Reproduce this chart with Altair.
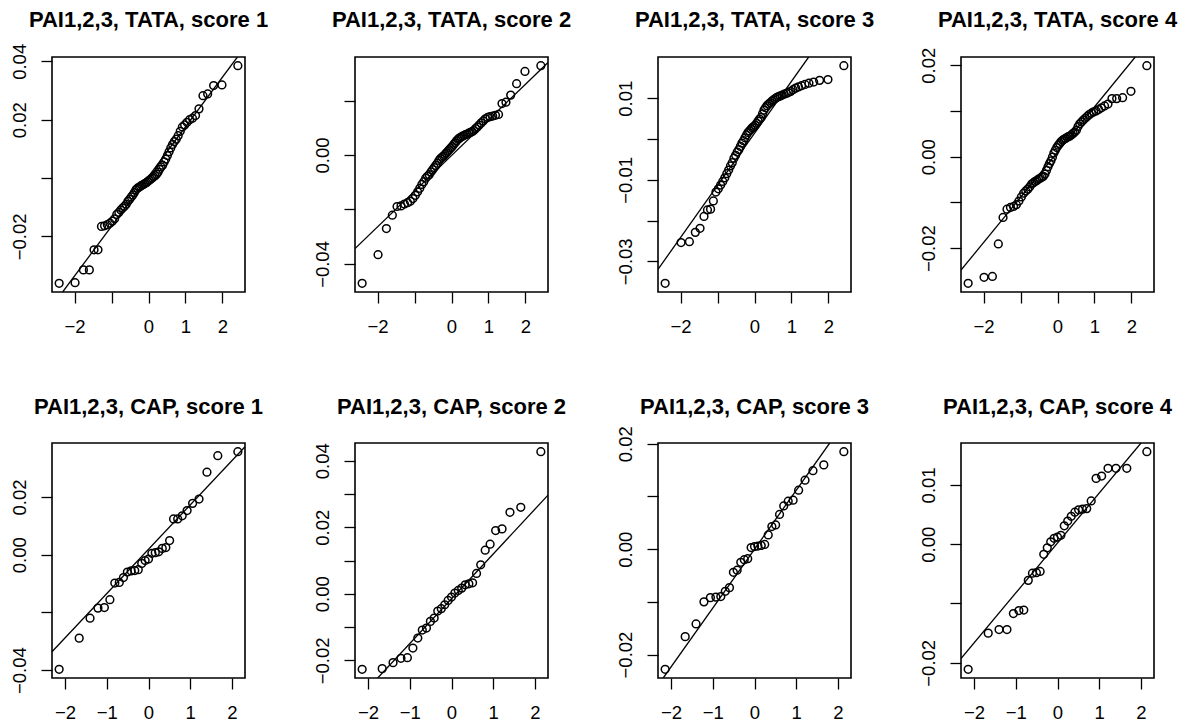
import altair as alt
import pandas as pd
from statistics import NormalDist

# Panel titles, row by row
TITLES = [
    "PAI1,2,3, TATA, score 1", "PAI1,2,3, TATA, score 2",
    "PAI1,2,3, TATA, score 3", "PAI1,2,3, TATA, score 4",
    "PAI1,2,3, CAP, score 1", "PAI1,2,3, CAP, score 2",
    "PAI1,2,3, CAP, score 3", "PAI1,2,3, CAP, score 4",
]

# Sample values (sorted) for each panel
TATA_1 = [-0.0361, -0.0359, -0.0315, -0.0315, -0.0246, -0.0246, -0.0166, -0.0164,
          -0.0160, -0.0155, -0.0148, -0.0140, -0.0125, -0.0118, -0.0110, -0.0103,
          -0.0097, -0.0090, -0.0080, -0.0073, -0.0065, -0.0058, -0.0050, -0.0040,
          -0.0035, -0.0032, -0.0028, -0.0025, -0.0022, -0.0019, -0.0016, -0.0012,
          -0.0008, -0.0004, 0.0000, 0.0004, 0.0008, 0.0013, 0.0020, 0.0030,
          0.0038, 0.0044, 0.0055, 0.0065, 0.0077, 0.0090, 0.0103, 0.0115,
          0.0125, 0.0133, 0.0145, 0.0160, 0.0175, 0.0182, 0.0191, 0.0200,
          0.0205, 0.0214, 0.0237, 0.0282, 0.0288, 0.0317, 0.0319, 0.0385]
TATA_2 = [-0.0471, -0.0366, -0.0270, -0.0221, -0.0189, -0.0187, -0.0180, -0.0175,
          -0.0170, -0.0160, -0.0148, -0.0135, -0.0122, -0.0108, -0.0098, -0.0085,
          -0.0078, -0.0072, -0.0062, -0.0054, -0.0046, -0.0038, -0.0030, -0.0020,
          -0.0013, -0.0008, -0.0004, 0.0002, 0.0008, 0.0014, 0.0020, 0.0026,
          0.0031, 0.0039, 0.0045, 0.0052, 0.0058, 0.0062, 0.0066, 0.0069,
          0.0072, 0.0075, 0.0077, 0.0080, 0.0083, 0.0086, 0.0090, 0.0097,
          0.0103, 0.0110, 0.0118, 0.0125, 0.0133, 0.0138, 0.0141, 0.0143,
          0.0146, 0.0149, 0.0189, 0.0194, 0.0220, 0.0262, 0.0307, 0.0328]
TATA_3 = [-0.0354, -0.0254, -0.0252, -0.0229, -0.0219, -0.0190, -0.0174, -0.0172,
          -0.0152, -0.0130, -0.0122, -0.0113, -0.0104, -0.0095, -0.0085, -0.0076,
          -0.0066, -0.0058, -0.0047, -0.0040, -0.0032, -0.0026, -0.0018, -0.0010,
          -0.0004, 0.0003, 0.0010, 0.0016, 0.0020, 0.0024, 0.0028, 0.0031,
          0.0034, 0.0039, 0.0044, 0.0049, 0.0053, 0.0062, 0.0071, 0.0077,
          0.0082, 0.0086, 0.0089, 0.0093, 0.0096, 0.0099, 0.0102, 0.0104,
          0.0106, 0.0108, 0.0110, 0.0112, 0.0114, 0.0117, 0.0121, 0.0125,
          0.0128, 0.0131, 0.0134, 0.0137, 0.0140, 0.0144, 0.0146, 0.0180]
TATA_4 = [-0.0277, -0.0264, -0.0262, -0.0191, -0.0133, -0.0115, -0.0111, -0.0109,
          -0.0105, -0.0097, -0.0088, -0.0080, -0.0075, -0.0071, -0.0066, -0.0060,
          -0.0057, -0.0054, -0.0052, -0.0049, -0.0047, -0.0045, -0.0043, -0.0038,
          -0.0030, -0.0022, -0.0015, -0.0009, -0.0001, 0.0008, 0.0014, 0.0020,
          0.0025, 0.0029, 0.0033, 0.0036, 0.0038, 0.0040, 0.0042, 0.0044,
          0.0045, 0.0048, 0.0051, 0.0054, 0.0058, 0.0066, 0.0072, 0.0076,
          0.0080, 0.0084, 0.0088, 0.0092, 0.0095, 0.0098, 0.0100, 0.0103,
          0.0107, 0.0111, 0.0115, 0.0127, 0.0127, 0.0129, 0.0143, 0.0199]
CAP_1 = [-0.0397, -0.0289, -0.0220, -0.0185, -0.0183, -0.0156, -0.0098, -0.0096,
         -0.0079, -0.0060, -0.0056, -0.0055, -0.0052, -0.0030, -0.0020, -0.0015,
         0.0005, 0.0007, 0.0010, 0.0022, 0.0025, 0.0049, 0.0124, 0.0124,
         0.0135, 0.0153, 0.0178, 0.0193, 0.0286, 0.0343, 0.0357]
CAP_2 = [-0.0227, -0.0225, -0.0207, -0.0194, -0.0192, -0.0163, -0.0133, -0.0109,
         -0.0103, -0.0083, -0.0073, -0.0052, -0.0045, -0.0033, -0.0020, -0.0010,
         0.0002, 0.0010, 0.0017, 0.0027, 0.0030, 0.0033, 0.0061, 0.0087,
         0.0131, 0.0149, 0.0190, 0.0195, 0.0245, 0.0260, 0.0427]
CAP_3 = [-0.0228, -0.0166, -0.0142, -0.0100, -0.0092, -0.0090, -0.0091, -0.0080,
         -0.0073, -0.0044, -0.0040, -0.0025, -0.0020, -0.0018, 0.0003, 0.0005,
         0.0006, 0.0007, 0.0009, 0.0027, 0.0043, 0.0046, 0.0066, 0.0082,
         0.0091, 0.0093, 0.0112, 0.0131, 0.0149, 0.0160, 0.0185]
CAP_4 = [-0.0211, -0.0150, -0.0144, -0.0144, -0.0117, -0.0112, -0.0111, -0.0061,
         -0.0049, -0.0048, -0.0046, -0.0017, -0.0006, 0.0004, 0.0010, 0.0012,
         0.0015, 0.0031, 0.0039, 0.0047, 0.0054, 0.0058, 0.0059, 0.0060,
         0.0073, 0.0111, 0.0115, 0.0128, 0.0128, 0.0128, 0.0156]

SAMPLES = [TATA_1, TATA_2, TATA_3, TATA_4, CAP_1, CAP_2, CAP_3, CAP_4]

# Reference line through the quartiles of each panel: intercept and slope
LINE_INTERCEPT = [0.0005, -0.0002, 0.0014, 0.0010, 0.0019, -0.0015, 0.0000, 0.0002]
LINE_SLOPE = [0.01704, 0.01308, 0.01278, 0.00989, 0.01535, 0.01347, 0.01118, 0.00843]

# Axis ticks and the ticks that carry a printed label
Y_TICKS = [
    [-0.02, 0, 0.02, 0.04],
    [-0.04, -0.02, 0, 0.02],
    [-0.03, -0.02, -0.01, 0, 0.01],
    [-0.02, -0.01, 0, 0.01, 0.02],
    [-0.04, -0.02, 0, 0.02],
    [-0.02, -0.01, 0, 0.01, 0.02, 0.03, 0.04],
    [-0.02, -0.01, 0, 0.01, 0.02],
    [-0.02, -0.01, 0, 0.01],
]
Y_LABELED = [
    [-0.02, 0.02, 0.04],
    [-0.04, 0],
    [-0.03, -0.01, 0.01],
    [-0.02, 0, 0.02],
    [-0.04, 0, 0.02],
    [-0.02, 0, 0.02, 0.04],
    [-0.02, 0, 0.02],
    [-0.02, 0, 0.01],
]
X_TICKS = [-2, -1, 0, 1, 2]
X_LABELED = [[-2, 0, 1, 2], [-2, -1, 0, 1, 2]]

W, H = 193, 235
FONT = "Liberation Sans"
LABEL_SIZE = 18.5
TITLE_SIZE = 22
TITLE_OFFSET = [8, 7]


def expanded(lo, hi, frac=0.04):
    r = hi - lo
    return [lo - frac * r, hi + frac * r]


def label_width(text, size):
    widths = {".": 0.278, "\u2212": 0.584}
    return size * sum(widths.get(c, 0.556) for c in text)


def label_expr(values):
    return "indexof([%s], datum.value) >= 0 ? datum.label : ''" % ",".join(repr(v) for v in values)


panels = []
for k, sample in enumerate(SAMPLES):
    row = k // 4
    n = len(sample)
    nd = NormalDist()
    qlo, qhi = nd.inv_cdf(0.5 / n), nd.inv_cdf(1 - 0.5 / n)
    xdom = expanded(qlo, qhi)
    ydom = expanded(min(sample), max(sample))

    # keep the panel title a fixed distance above the plot frame even when
    # the uppermost y label reaches above it
    top_lab = max(Y_LABELED[k])
    top_px = (ydom[1] - top_lab) / (ydom[1] - ydom[0]) * H
    txt = f"{top_lab:.2f}".replace("-", "\u2212")
    overshoot = max(0.0, label_width(txt, LABEL_SIZE) / 2 - top_px)

    xscale = alt.Scale(domain=xdom, nice=False, zero=False)
    yscale = alt.Scale(domain=ydom, nice=False, zero=False)
    xaxis = alt.Axis(values=X_TICKS, format="d", labelExpr=label_expr(X_LABELED[row]),
                     labelBaseline="alphabetic", labelAlign="center", labelPadding=29)
    yaxis = alt.Axis(values=Y_TICKS[k], format=".2f", labelExpr=label_expr(Y_LABELED[k]),
                     labelAngle=270, labelAlign="center", labelBaseline="alphabetic",
                     labelPadding=16)

    pts_df = pd.DataFrame({"value": sample})
    points = (
        alt.Chart(pts_df)
        .transform_window(rank="row_number()", sort=[alt.SortField("value")])
        .transform_joinaggregate(n="count()")
        .transform_calculate(theo="quantileNormal((datum.rank - 0.5) / datum.n)")
        .mark_point(shape="circle", filled=False, size=60, strokeWidth=1.5,
                    color="black", opacity=1)
        .encode(
            x=alt.X("theo:Q", scale=xscale, axis=xaxis, title=None),
            y=alt.Y("value:Q", scale=yscale, axis=yaxis, title=None),
        )
    )

    a, b = LINE_INTERCEPT[k], LINE_SLOPE[k]
    x0 = max(xdom[0], (ydom[0] - a) / b)
    x1 = min(xdom[1], (ydom[1] - a) / b)
    line_df = pd.DataFrame({"theo": [x0, x1], "value": [a + b * x0, a + b * x1]})
    line = (
        alt.Chart(line_df)
        .mark_line(color="black", strokeWidth=1.3, clip=True)
        .encode(
            x=alt.X("theo:Q", scale=xscale, axis=xaxis, title=None),
            y=alt.Y("value:Q", scale=yscale, axis=yaxis, title=None),
        )
    )

    panel = alt.layer(line, points).properties(
        width=W, height=H,
        title=alt.TitleParams(
            TITLES[k], font=FONT, fontSize=TITLE_SIZE, fontWeight="bold",
            color="black", anchor="middle", frame="group",
            baseline="alphabetic", offset=TITLE_OFFSET[row] - overshoot,
        ),
    )
    panels.append(panel)

chart = (
    alt.concat(*panels, columns=4, spacing={"row": 151, "column": 110}, bounds="flush")
    .properties(padding={"left": 9, "top": 8, "right": 0, "bottom": 0}, background="white")
    .configure_view(stroke="black", strokeWidth=1.6)
    .configure_axis(
        domain=False, grid=False, ticks=True, tickColor="black", tickWidth=1.3,
        tickSize=11, labelColor="black", labelFont=FONT, labelFontSize=LABEL_SIZE,
        labelOverlap=False, labelFlush=False,
    )
)

chart.save("out.html", embed_options={"renderer": "svg", "actions": False})
